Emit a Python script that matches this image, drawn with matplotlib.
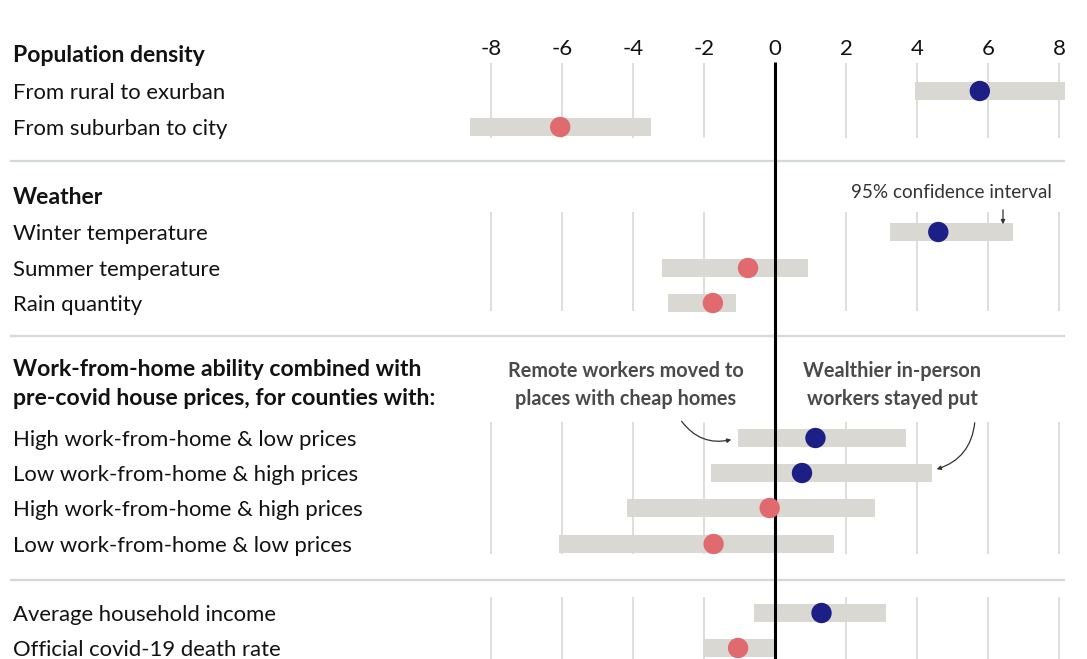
import matplotlib
matplotlib.use("Agg")
import matplotlib.pyplot as plt
import numpy as np

# ---------------- data ----------------
headers = ["Population density", "Weather",
           "Work-from-home ability combined with\npre-covid house prices, for counties with:", None]
categories = [
    ["From rural to exurban", "From suburban to city"],
    ["Winter temperature", "Summer temperature", "Rain quantity"],
    ["High work-from-home & low prices", "Low work-from-home & high prices",
     "High work-from-home & high prices", "Low work-from-home & low prices"],
    ["Average household income", "Official covid-19 death rate"],
]
estimate = [5.77, -6.05, 4.60, -0.76, -1.75, 1.14, 0.76, -0.15, -1.73, 1.31, -1.04]
ci_low = [3.93, -8.60, 3.24, -3.17, -3.01, -1.05, -1.79, -4.16, -6.09, -0.58, -2.03]
ci_high = [8.18, -3.48, 6.70, 0.93, -1.09, 3.70, 4.41, 2.83, 1.67, 3.12, 0.05]
ticks = [-8, -6, -4, -2, 0, 2, 4, 6, 8]
tick_labels = ["-8", "-6", "-4", "-2", "0", "2", "4", "6", "8"]

# ---------------- layout (pixels) ----------------
W, H = 1087, 659
ZERO_PX, UNIT_PX = 775, 35.5
header_y = [56, 197, 384, None]
row_y = [[91, 127], [232, 268, 303], [438, 473, 508, 544], [613, 648]]
grid_span = [(63, 138), (212, 311), (422, 554), (597, 659)]
sep_y = [161, 336, 580]
LABEL_DY = 2

BLUE = "#1c1f86"
RED = "#e06a6d"
BAR = "#d9d8d3"
GRID = "#d8d8d8"
SEP = "#d3d8d8"
TXT = "#121212"
FONT = ["Lato", "DejaVu Sans"]

plt.rcParams["font.family"] = FONT

fig = plt.figure(figsize=(W / 100, H / 100), dpi=100)
ax = fig.add_axes([0, 0, 1, 1])
ax.set_xlim(-ZERO_PX / UNIT_PX, (W - ZERO_PX) / UNIT_PX)
ax.set_ylim(H, 0)
ax.axis("off")


def px2x(px):
    return (px - ZERO_PX) / UNIT_PX


# gridlines per section
for (y0, y1) in grid_span:
    ax.vlines([t for t in ticks if t != 0], y0, y1, color=GRID, lw=1.2, zorder=1)

# separators
for y in sep_y:
    ax.hlines(y, px2x(10), px2x(1065), color=SEP, lw=1.6, zorder=1)

# tick labels
for t, lab in zip(ticks, tick_labels):
    ax.text(t, 49, lab, ha="center", va="center", fontsize=16, color=TXT)

# bars + dots
ys = [y for grp in row_y for y in grp]
labels = [c for grp in categories for c in grp]
est = np.array(estimate)
lo = np.array(ci_low)
hi = np.array(ci_high)
ax.barh(ys, hi - lo, left=lo, height=18, color=BAR, zorder=2)
colors = [BLUE if e > 0 else RED for e in est]
ax.scatter(est, ys, s=215, c=colors, zorder=4, linewidths=0)

# zero line
ax.vlines(0, 62, H, color="black", lw=2.2, zorder=3)

# headers & labels
for h, hy in zip(headers, header_y):
    if h:
        ax.text(13 / W, hy, h, transform=ax.get_yaxis_transform(), ha="left",
                va="center", fontsize=16.6, fontweight="bold", color=TXT,
                linespacing=1.42)
for lab, y in zip(labels, ys):
    ax.text(13 / W, y + LABEL_DY, lab, transform=ax.get_yaxis_transform(),
            ha="left", va="center", fontsize=15.9, color=TXT)

# annotations
ax.text(px2x(951), 193, "95% confidence interval", ha="center", va="center",
        fontsize=13.6, color="#333333")
ax.annotate("", xy=(px2x(1003), 227), xytext=(px2x(1003), 207),
            arrowprops=dict(arrowstyle="-|>", color="#333333", lw=0.9,
                            mutation_scale=6))

ax.text(px2x(626), 385, "Remote workers moved to\nplaces with cheap homes",
        ha="center", va="center", fontsize=14.3, fontweight="bold",
        color="#4a4a4a", linespacing=1.5)
ax.text(px2x(892), 385, "Wealthier in-person\nworkers stayed put",
        ha="center", va="center", fontsize=14.3, fontweight="bold",
        color="#4a4a4a", linespacing=1.5)
ax.annotate("", xy=(px2x(734), 439), xytext=(px2x(680), 419),
            arrowprops=dict(arrowstyle="-|>", color="#333333", lw=0.9,
                            mutation_scale=6,
                            connectionstyle="arc3,rad=0.35"))
ax.annotate("", xy=(px2x(934), 470), xytext=(px2x(975), 420),
            arrowprops=dict(arrowstyle="-|>", color="#333333", lw=0.9,
                            mutation_scale=6,
                            connectionstyle="arc3,rad=-0.35"))

fig.savefig("out.png", dpi=100, facecolor="white")
